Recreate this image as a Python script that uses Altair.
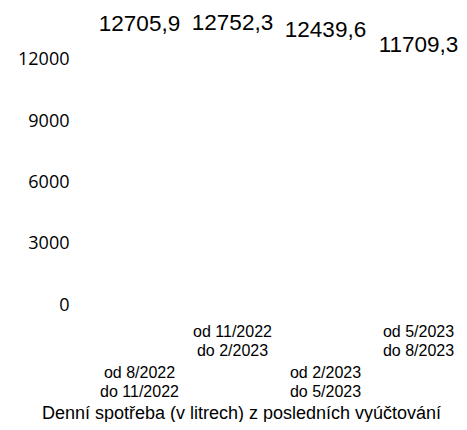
import altair as alt
import pandas as pd

periods = ["od 8/2022\ndo 11/2022", "od 11/2022\ndo 2/2023", "od 2/2023\ndo 5/2023", "od 5/2023\ndo 8/2023"]
values = [12705.9, 12752.3, 12439.6, 11709.3]
tier = ["low", "high", "low", "high"]
y_ticks = [0, 3000, 6000, 9000, 12000]
title_text = "Denní spotřeba (v litrech) z posledních vyúčtování"

df = pd.DataFrame({"period": periods, "value": values, "tier": tier})

x = alt.X("period:N", sort=periods, axis=None,
          scale=alt.Scale(range=[0, 372], paddingInner=0.2, paddingOuter=0.1))
y = alt.Y("value:Q", scale=alt.Scale(domain=[0, 14000], nice=False),
          axis=alt.Axis(values=y_ticks, format="d", title=None, domain=False, ticks=False, grid=False,
                        labelFont="Open Sans", labelFontSize=18, labelColor="black",
                        labelPadding=24))

base = alt.Chart(df)

bars = base.mark_bar(color="white").encode(x=x, y=y)

vals = base.transform_calculate(
    lab="replace(format(datum.value, '.1f'), '.', ',')"
).mark_text(font="Liberation Sans", fontSize=22.5, color="black", baseline="alphabetic", dy=-14
).encode(x=x, y="value:Q", text="lab:N")

cat_high = base.transform_filter("datum.tier == 'high'").transform_calculate(
    lines="split(datum.period, '\\n')"
).mark_text(font="Liberation Sans", fontSize=16, color="black", baseline="alphabetic", lineHeight=18.5
).encode(x=x, y=alt.value(318), text="lines:N")

cat_low = base.transform_filter("datum.tier == 'low'").transform_calculate(
    lines="split(datum.period, '\\n')"
).mark_text(font="Liberation Sans", fontSize=16, color="black", baseline="alphabetic", lineHeight=18.5
).encode(x=x, y=alt.value(359), text="lines:N")

title = alt.Chart(pd.DataFrame({"t": [title_text]})).mark_text(
    font="Liberation Sans", fontSize=18, color="black", baseline="middle", align="center"
).encode(x=alt.value(148.5), y=alt.value(395), text="t:N")

chart = alt.layer(bars, vals, cat_high, cat_low, title).properties(
    width=366, height=286,
    autosize=alt.AutoSizeParams(type="none"),
    padding={"left": 85, "top": 11, "right": 0, "bottom": 117},
).configure_view(stroke=None)

chart.save("out.html", embed_options={"renderer": "svg", "actions": False})
